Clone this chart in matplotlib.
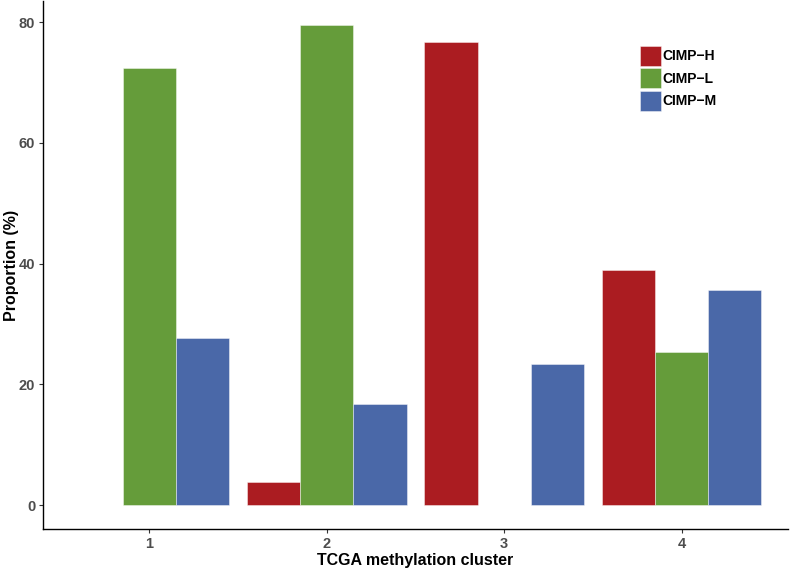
import numpy as np
import matplotlib.pyplot as plt

plt.rcParams['font.family'] = ['Liberation Sans', 'DejaVu Sans']

clusters = ['1', '2', '3', '4']
groups = ['CIMP\u2212H', 'CIMP\u2212L', 'CIMP\u2212M']
cimp_h = [0.0, 3.8, 76.7, 39.0]
cimp_l = [72.4, 79.5, 0.0, 25.4]
cimp_m = [27.6, 16.7, 23.3, 35.6]
colors = ['#AB1C21', '#659C3A', '#4A68A8']

fig = plt.figure(figsize=(7.9, 5.7), dpi=100)
ax = fig.add_axes([0.0544, 0.0719, 0.943, 0.926])

x = np.arange(1, len(clusters) + 1)
w = 0.3
for i, (vals, lab, col) in enumerate(zip([cimp_h, cimp_l, cimp_m], groups, colors)):
    ax.bar(x + (i - 1) * w, vals, width=w, color=col, label=lab,
           edgecolor=(1, 1, 1, 0.5), linewidth=0.6)

ymax = 79.5
ax.set_xlim(0.4, 4.6)
ax.set_ylim(-0.05 * ymax, 1.05 * ymax)
ax.set_xticks(x)
ax.set_xticklabels(clusters)
ax.set_yticks([0, 20, 40, 60, 80])

for s in ['top', 'right']:
    ax.spines[s].set_visible(False)
for s in ['left', 'bottom']:
    ax.spines[s].set_linewidth(1.0)
    ax.spines[s].set_color('black')
ax.tick_params(length=3, width=0.8, color='#333333', labelcolor='#4D4D4D',
               labelsize=10.5, pad=2.5)
for t in ax.get_xticklabels() + ax.get_yticklabels():
    t.set_fontweight('bold')

ax.set_xlabel('TCGA methylation cluster', fontsize=11.5, fontweight='bold', labelpad=2)
ax.set_ylabel('Proportion (%)', fontsize=11.5, fontweight='bold')
ax.yaxis.set_label_coords(-0.0325, 0.5)

leg = ax.legend(loc='upper left', bbox_to_anchor=(0.7935, 0.926), frameon=False,
                prop={'weight': 'bold', 'size': 10}, handlelength=1.55,
                handleheight=1.85, handletextpad=0.1, labelspacing=0.17,
                borderaxespad=0)

fig.savefig('out.png', dpi=100)
